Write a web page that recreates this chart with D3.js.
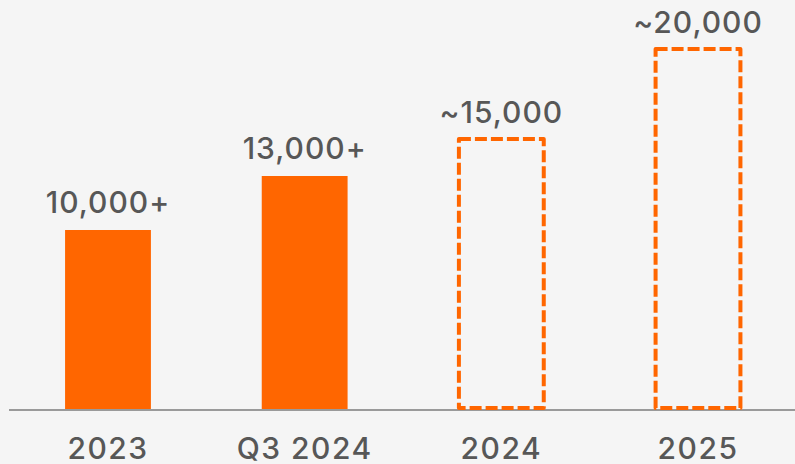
<!DOCTYPE html>
<html>
<head>
<meta charset="utf-8">
<script src="https://cdn.jsdelivr.net/npm/d3@7"></script>
<style>
  html, body { margin: 0; padding: 0; background: #f5f5f5; }
  svg { display: block; }
  text { font-family: "Inter", "DejaVu Sans", sans-serif; font-weight: 500; fill: #575757; }
</style>
</head>
<body>
<svg id="chart" width="795" height="464"></svg>
<script>
const categories = ["2023", "Q3 2024", "2024", "2025"];
const values = [10000, 13000, 15000, 20000];
const valueLabels = ["10,000+", "13,000+", "~15,000", "~20,000"];
const projected = [false, false, true, true];

const W = 795, H = 464;
const svg = d3.select("#chart");
svg.append("rect").attr("width", W).attr("height", H).attr("fill", "#f5f5f5");

const x = d3.scaleBand().domain(categories).range([10, 796]).paddingInner(0.5635).paddingOuter(0.28);
const y = d3.scaleLinear().domain([0, 20000]).range([410, 50]);

const data = categories.map((c, i) => ({ c, v: values[i], label: valueLabels[i], proj: projected[i] }));

// solid bars
svg.selectAll("rect.solid").data(data.filter(d => !d.proj)).join("rect")
  .attr("class", "solid")
  .attr("x", d => x(d.c)).attr("y", d => y(d.v))
  .attr("width", x.bandwidth()).attr("height", d => y(0) - y(d.v))
  .attr("fill", "#ff6600");

// baseline
svg.append("line").attr("x1", 9).attr("x2", W).attr("y1", y(0)).attr("y2", y(0))
  .attr("stroke", "#9a9a9a").attr("stroke-width", 2);

// dashed projected bars
svg.selectAll("rect.dash").data(data.filter(d => d.proj)).join("rect")
  .attr("class", "dash")
  .attr("x", d => x(d.c) + 0.5).attr("y", d => y(d.v) - 1)
  .attr("width", x.bandwidth() - 1).attr("height", d => y(0) - y(d.v) - 1)
  .attr("fill", "none").attr("stroke", "#ff6600").attr("stroke-width", 4)
  .attr("stroke-dasharray", "12 4").attr("stroke-linejoin", "round");

// value labels
svg.selectAll("text.val").data(data).join("text")
  .attr("class", "val")
  .attr("x", d => x(d.c) + x.bandwidth() / 2)
  .attr("y", d => y(d.v) - 17)
  .attr("text-anchor", "middle")
  .attr("font-size", 30)
  .attr("letter-spacing", 1)
  .text(d => d.label);

// category labels
svg.selectAll("text.cat").data(data).join("text")
  .attr("class", "cat")
  .attr("x", d => x(d.c) + x.bandwidth() / 2)
  .attr("y", 459)
  .attr("text-anchor", "middle")
  .attr("font-size", 30)
  .attr("letter-spacing", 1.5)
  .text(d => d.c);
</script>
</body>
</html>
